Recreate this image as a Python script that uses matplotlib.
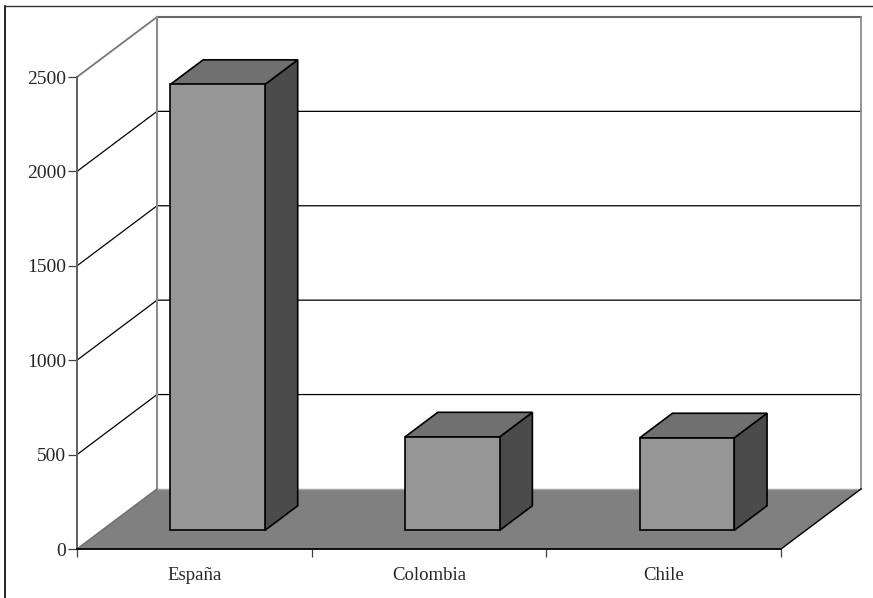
#!/usr/bin/env python

import matplotlib
matplotlib.use("Agg")
import matplotlib.pyplot as plt
from matplotlib.patches import Polygon

countries = ["España", "Colombia", "Chile"]
values = [2362, 495, 490]
y_ticks = [0, 500, 1000, 1500, 2000, 2500]

# depth of the box as a shift in x (categories) and y (value units)
DX = 0.341
DY = 318
BAR_X = 0.292
BAR_W = 0.403
BAR_FRONT = 0.31
BAR_BACK = 0.72

FRONT = "#969696"
TOP = "#707070"
SIDE = "#4b4b4b"
FLOOR = "#808080"
WALL = "#8c8c8c"


def pr(x, y, d):
  return (x + d * DX, y + d * DY)


def line(ax, pts, color, lw, z):
  xy = [pr(*p) for p in pts]
  ax.plot([p[0] for p in xy], [p[1] for p in xy], color=color, lw=lw, zorder=z,
          clip_on=False, solid_joinstyle="miter")


def face(ax, pts, color, z, ec="black", lw=1.2):
  ax.add_patch(Polygon([pr(*p) for p in pts], closed=True, fc=color, ec=ec,
                       lw=lw, zorder=z, clip_on=False, joinstyle="miter"))


def draw_bar(ax, i, val):
  x0 = i + BAR_X
  x1 = x0 + BAR_W
  d0 = BAR_FRONT
  d1 = BAR_BACK
  face(ax, [(x1, 0, d0), (x1, 0, d1), (x1, val, d1), (x1, val, d0)], SIDE, 5)
  face(ax, [(x0, val, d0), (x1, val, d0), (x1, val, d1), (x0, val, d1)], TOP, 5)
  face(ax, [(x0, 0, d0), (x1, 0, d0), (x1, val, d0), (x0, val, d0)], FRONT, 6)


def main():
  plt.rcParams["font.family"] = ["Liberation Serif", "DejaVu Serif"]
  W, H = 873, 598
  fig = plt.figure(figsize=(W / 100, H / 100), dpi=100)
  ax = fig.add_axes([77 / W, 1 - 549 / H, 704 / W, 472 / H])
  ax.set_xlim(0, 3)
  ax.set_ylim(0, 2500)
  ax.patch.set_alpha(0)

  n = len(countries)
  top = y_ticks[-1]

  # gridlines on the side and back walls
  for t in y_ticks[1:-1]:
    line(ax, [(0, t, 0), (0, t, 1), (n, t, 1)], "black", 0.9, 1)

  # wall outline
  line(ax, [(0, top, 0), (0, top, 1)], "#777777", 1.3, 2)
  line(ax, [(0, top, 1), (n, top, 1)], "#686868", 1.5, 2)
  line(ax, [(n, top, 1), (n, 0, 1)], WALL, 1.3, 2)
  line(ax, [(0, top, 1), (0, 0, 1)], WALL, 1.5, 2)

  face(ax, [(0, 0, 0), (n, 0, 0), (n, 0, 1), (0, 0, 1)], FLOOR, 3, ec="none", lw=0)
  line(ax, [(0, 0, 1), (n, 0, 1)], "#a8a8a8", 1.0, 4)
  line(ax, [(n, 0, 0), (n, 0, 1)], "black", 1.0, 4)
  line(ax, [(0, 0, 0), (0, 0, 1)], "#707070", 1.1, 4)

  for i, v in enumerate(values):
    draw_bar(ax, i, v)

  for s in ["top", "right"]:
    ax.spines[s].set_visible(False)
  ax.spines["left"].set_color("#606060")
  ax.spines["left"].set_linewidth(1.4)
  ax.spines["bottom"].set_color("black")
  ax.spines["bottom"].set_linewidth(1.3)
  ax.spines["left"].set_zorder(7)
  ax.spines["bottom"].set_zorder(7)

  ax.set_yticks(y_ticks)
  ax.set_xticks(range(n + 1))
  ax.set_xticklabels([])
  ax.set_xticks([i + 0.5 for i in range(n)], countries, minor=True)
  ax.tick_params(axis="y", length=6.5, width=0.9, color="#404040", pad=1.5,
                 labelsize=14, labelcolor="#262626")
  ax.tick_params(axis="x", which="major", length=6, width=0.9, color="#404040")
  ax.tick_params(axis="x", which="minor", length=0, pad=13, labelsize=13.5,
                 labelcolor="#262626")

  # frame around the whole chart, open at the right and bottom edges
  fig.add_artist(plt.Line2D([4.5 / W, 4.5 / W], [0, 1 - 6 / H],
                            color="black", lw=1.2))
  fig.add_artist(plt.Line2D([4.5 / W, 1], [1 - 6 / H, 1 - 6 / H],
                            color="#333333", lw=1.0))

  plt.savefig("out.png", dpi=100)


if __name__ == "__main__":
  main()
